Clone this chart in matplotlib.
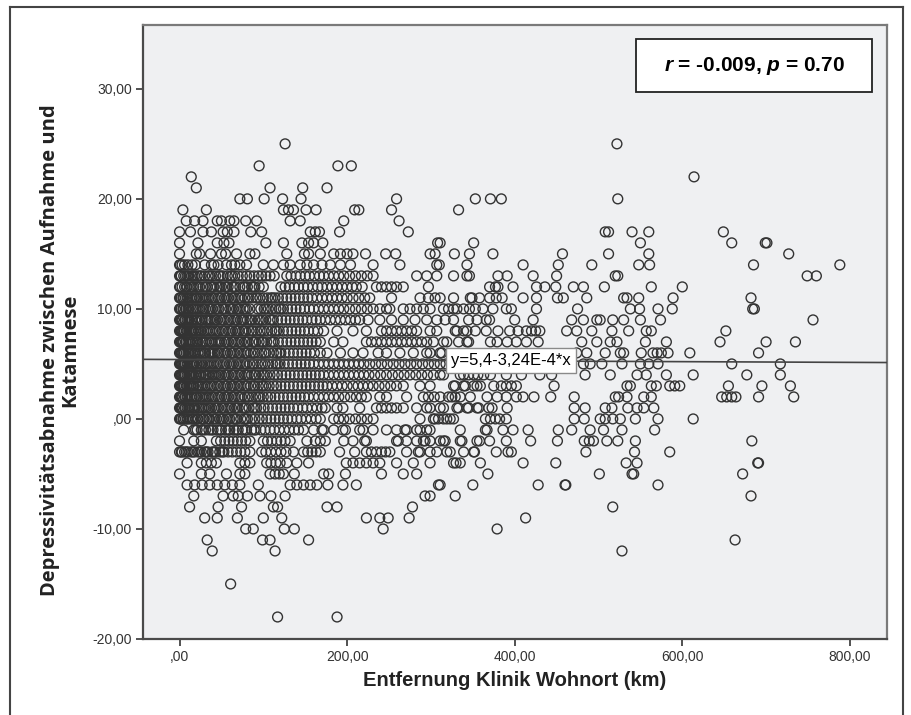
import matplotlib
matplotlib.use('Agg')
import matplotlib.pyplot as plt
from matplotlib.patches import Rectangle
from matplotlib.lines import Line2D
import numpy as np

plt.rcParams['font.family'] = ['Liberation Sans', 'DejaVu Sans']
plt.rcParams['mathtext.fontset'] = 'custom'
plt.rcParams['mathtext.bfit'] = 'Liberation Sans:italic:bold'
plt.rcParams['mathtext.bf'] = 'Liberation Sans:bold'
plt.rcParams['mathtext.rm'] = 'Liberation Sans:bold'

# Distance (km) of each patient, grouped by the (integer) decrease in depression score
km_s25 = [126, 522]
km_s23 = [95, 189, 205]
km_s22 = [14, 614]
km_s21 = [20, 108, 147, 176]
km_s20 = [72, 81, 101, 123, 145, 259, 353, 371, 384, 523]
km_s19 = [4, 32, 124, 130, 136, 151, 163, 209, 214, 253, 333]
km_s18 = [8, 18, 28, 45, 50, 60, 65, 79, 92, 132, 144, 196, 262]
km_s17 = [0, 13, 28, 38, 52, 57, 65, 85, 98, 156, 162, 167, 191, 273, 508, 512, 540, 560, 649]
km_s16 = [0, 22, 45, 53, 59, 103, 124, 146, 154, 160, 171, 308, 311, 351, 550, 659, 699, 701]
km_s15 = [0, 20, 24, 37, 50, 55, 68, 84, 90, 128, 149, 154, 168, 184, 192, 200, 207, 222, 246,
          258, 299, 305, 328, 346, 374, 457, 512, 560, 727]
km_s14 = [0, 3, 6, 10, 30, 38, 46, 56, 62, 72, 80, 100, 112, 124, 132, 144, 152, 160, 170, 180,
          192, 204, 231, 263, 307, 310, 343, 410, 452, 492, 548, 561, 685, 788, 1, 15, 19, 41, 66]
km_s13 = [0, 2, 5, 7, 11, 14, 18, 21, 26, 30, 34, 39, 43, 47, 52, 57, 61, 66, 70, 75, 80, 84, 89,
          94, 98, 103, 108, 113, 128, 133, 139, 144, 150, 155, 161, 167, 172, 178, 184, 190, 196,
          203, 210, 217, 224, 231, 283, 295, 307, 327, 343, 346, 380, 391, 422, 450, 520, 523,
          749, 760, 1, 9, 16, 24, 36, 49, 63]
km_s12 = [0, 3, 6, 9, 13, 17, 20, 24, 28, 33, 37, 41, 45, 50, 54, 58, 63, 67, 72, 76, 81, 86, 90,
          95, 100, 121, 126, 131, 137, 142, 148, 153, 159, 165, 170, 176, 182, 188, 194, 200, 206,
          211, 218, 235, 241, 247, 253, 259, 267, 297, 370, 377, 380, 398, 426, 436, 449, 470,
          482, 507, 563, 600, 1, 8, 15, 22, 31, 39, 48, 56, 65, 78, 88]
km_s11 = [0, 2, 4, 7, 10, 12, 15, 18, 21, 24, 28, 31, 35, 38, 42, 46, 50, 54, 58, 62, 66, 70, 74,
          78, 83, 87, 91, 96, 100, 105, 109, 114, 118, 123, 128, 133, 138, 143, 148, 153, 158,
          164, 170, 176, 182, 188, 194, 200, 207, 214, 221, 227, 253, 287, 297, 305, 311, 327,
          347, 349, 358, 370, 378, 385, 410, 426, 451, 458, 486, 530, 534, 548, 589, 682,
          1, 5, 9, 14, 20, 26, 33, 40, 48, 56, 64, 72, 81, 93, 111]
km_s10 = [0, 2, 5, 8, 11, 14, 17, 20, 24, 27, 31, 35, 39, 43, 47, 51, 55, 60, 64, 68, 72, 76, 80,
          84, 93, 97, 101, 106, 110, 115, 119, 124, 129, 134, 139, 144, 149, 155, 160, 166, 172,
          178, 184, 190, 196, 203, 210, 217, 224, 231, 239, 247, 251, 267, 275, 283, 291, 299,
          315, 321, 327, 331, 339, 346, 353, 362, 374, 390, 396, 426, 475, 538, 549, 571, 588,
          684, 686, 1, 4, 7, 10, 16, 22, 29, 37, 45, 53, 62, 70, 78, 103, 121]
km_s9 = [0, 2, 4, 7, 9, 12, 15, 18, 21, 24, 27, 31, 34, 38, 41, 45, 49, 53, 57, 61, 65, 69, 73,
         77, 81, 86, 90, 94, 99, 103, 108, 112, 117, 122, 127, 132, 137, 142, 147, 152, 158, 163,
         168, 174, 180, 186, 192, 198, 204, 210, 215, 225, 239, 253, 267, 281, 295, 307, 317, 327,
         345, 355, 366, 370, 400, 422, 468, 482, 498, 502, 517, 530, 550, 574, 756,
         1, 3, 6, 11, 14, 20, 26, 32, 36, 43, 51, 59, 67, 75, 84, 96, 110]
km_s8 = [0, 2, 4, 6, 9, 11, 14, 17, 20, 23, 26, 29, 33, 36, 40, 43, 47, 51, 55, 59, 63, 67, 71,
         75, 79, 83, 88, 92, 96, 101, 105, 110, 114, 119, 124, 129, 134, 139, 144, 149, 154, 160,
         165, 172, 188, 207, 223, 241, 247, 253, 259, 265, 271, 277, 283, 299, 307, 329, 331, 339,
         343, 353, 366, 380, 394, 404, 414, 420, 425, 430, 462, 474, 492, 516, 536, 557, 563, 652,
         1, 3, 5, 8, 13, 16, 19, 25, 31, 38, 45, 53, 61, 69, 77, 86, 98, 116]
km_s7 = [0, 1, 3, 5, 8, 10, 13, 16, 19, 22, 25, 28, 32, 35, 39, 42, 46, 50, 54, 58, 62, 66, 70,
         74, 78, 82, 87, 91, 95, 100, 104, 109, 113, 118, 123, 128, 133, 138, 143, 148, 153, 158,
         163, 168, 184, 195, 223, 229, 235, 241, 247, 253, 259, 265, 271, 277, 283, 289, 295, 303,
         315, 319, 333, 343, 345, 371, 379, 391, 402, 414, 428, 480, 498, 514, 522, 556, 581, 645,
         700, 735, 2, 4, 7, 12, 15, 21, 27, 30, 37, 44, 48, 56, 64, 72, 80, 89, 98, 111]
km_s6 = [0, 2, 4, 6, 8, 11, 13, 16, 19, 22, 25, 28, 31, 35, 38, 42, 45, 49, 53, 57, 61, 65, 69,
         73, 77, 81, 85, 90, 94, 98, 103, 107, 112, 116, 121, 126, 131, 136, 141, 146, 151, 156,
         161, 168, 176, 192, 207, 219, 237, 247, 263, 279, 295, 299, 311, 313, 474, 486, 508, 526,
         530, 551, 565, 570, 575, 583, 609, 691,
         1, 3, 5, 10, 15, 18, 24, 30, 36, 40, 47, 55, 63, 71, 79, 88, 101, 119]
km_s5 = [0, 1, 3, 5, 7, 10, 12, 15, 18, 21, 24, 27, 30, 34, 37, 41, 44, 48, 52, 56, 60, 64, 68,
         72, 76, 80, 84, 89, 93, 97, 102, 106, 111, 115, 120, 125, 130, 135, 140, 145, 150, 155,
         160, 166, 172, 178, 184, 190, 196, 202, 208, 214, 220, 227, 234, 241, 248, 255, 262, 269,
         276, 283, 290, 297, 304, 311, 318, 482, 490, 504, 528, 550, 560, 571, 659, 717,
         2, 4, 6, 9, 14, 17, 20, 26, 32, 39, 46, 54, 62, 70, 78, 87, 99, 117]
km_s4 = [0, 1, 3, 5, 7, 9, 12, 14, 17, 20, 23, 26, 29, 32, 36, 39, 43, 46, 50, 54, 58, 62, 66,
         70, 74, 78, 82, 86, 91, 95, 99, 104, 108, 113, 117, 122, 127, 132, 137, 142, 147, 152,
         157, 162, 167, 172, 178, 184, 190, 196, 202, 208, 214, 220, 226, 233, 240, 247, 254, 261,
         268, 275, 282, 289, 296, 303, 311, 315, 335, 339, 345, 351, 356, 363, 371, 390, 408, 430,
         444, 484, 514, 546, 557, 581, 613, 677, 717,
         2, 4, 6, 11, 16, 19, 25, 31, 34, 41, 48, 56, 64, 72, 80, 89, 101]
km_s3 = [0, 2, 4, 6, 9, 11, 14, 17, 20, 23, 27, 30, 34, 37, 41, 45, 49, 53, 57, 61, 65, 69, 73,
         77, 81, 85, 90, 94, 98, 103, 107, 112, 116, 121, 126, 131, 136, 141, 146, 151, 156, 161,
         166, 171, 176, 182, 188, 194, 200, 207, 213, 219, 225, 231, 238, 245, 252, 259, 267, 287,
         299, 327, 329, 339, 341, 351, 355, 359, 375, 384, 390, 396, 402, 447, 534, 538, 563, 569,
         585, 591, 597, 655, 695, 729,
         1, 3, 5, 8, 13, 16, 22, 25, 32, 39, 47, 55, 63, 71, 79, 88, 100]
km_s2 = [0, 2, 4, 7, 9, 12, 15, 18, 21, 24, 28, 31, 35, 38, 42, 46, 50, 54, 58, 62, 66, 70, 74,
         78, 83, 87, 91, 96, 100, 105, 109, 114, 119, 124, 129, 134, 139, 144, 149, 154, 160, 166,
         172, 178, 184, 190, 197, 204, 211, 217, 223, 239, 247, 271, 291, 297, 304, 311, 321, 325,
         329, 335, 347, 367, 379, 390, 402, 410, 423, 443, 471, 520, 524, 534, 554, 563, 647, 653,
         659, 664, 691, 733, 1, 3, 6, 10, 14, 20, 26, 33, 40, 48, 56, 64, 72, 81, 94]
km_s1 = [0, 2, 4, 6, 9, 12, 15, 18, 21, 24, 27, 31, 34, 38, 42, 46, 50, 54, 58, 62, 66, 70, 75,
         79, 83, 88, 92, 97, 101, 106, 111, 116, 121, 126, 131, 136, 141, 147, 152, 158, 164, 170,
         174, 188, 195, 215, 235, 241, 247, 253, 259, 267, 283, 295, 299, 311, 315, 331, 333, 343,
         345, 355, 357, 369, 373, 391, 471, 484, 508, 516, 535, 546, 554, 566,
         1, 3, 7, 11, 17, 23, 29, 36, 44, 52, 60, 68, 77, 90]
km_s0 = [0, 2, 4, 7, 10, 13, 16, 19, 22, 26, 29, 33, 36, 40, 44, 48, 52, 56, 60, 64, 68, 73, 77,
         81, 86, 90, 95, 99, 104, 109, 114, 119, 124, 129, 134, 140, 145, 151, 157, 163, 168, 184,
         190, 196, 203, 210, 217, 224, 231, 287, 303, 305, 309, 315, 319, 323, 327, 365, 371, 377,
         382, 390, 471, 483, 502, 508, 517, 526, 544, 571, 613,
         1, 5, 9, 15, 21, 28, 35, 42, 50, 58, 66, 79]
km_sm1 = [5, 17, 21, 26, 31, 35, 40, 45, 50, 55, 60, 65, 70, 75, 80, 86, 91, 97, 102, 108, 113,
          119, 125, 131, 137, 142, 148, 160, 170, 172, 184, 195, 198, 215, 219, 231, 247, 259,
          269, 271, 283, 287, 295, 299, 335, 365, 367, 386, 398, 416, 452, 468, 490, 506, 528, 567,
          19, 28, 38, 48, 58, 68, 78, 89]
km_sm2 = [0, 17, 26, 44, 49, 54, 59, 64, 69, 74, 79, 84, 100, 105, 110, 116, 121, 126, 132, 152,
          162, 168, 174, 196, 207, 221, 223, 259, 261, 271, 283, 291, 293, 299, 311, 315, 317,
          335, 337, 355, 358, 370, 390, 419, 451, 483, 489, 494, 510, 523, 544, 683]
km_sm3 = [0, 3, 6, 10, 14, 18, 22, 26, 30, 34, 39, 43, 48, 53, 58, 63, 68, 73, 78, 84, 98, 103,
          109, 115, 121, 127, 136, 148, 153, 158, 163, 168, 191, 209, 223, 229, 235, 241, 246,
          251, 271, 285, 287, 299, 307, 319, 323, 339, 351, 352, 378, 392, 396, 485, 543, 585,
          2, 8, 16, 24, 32, 41, 51]
km_sm4 = [9, 26, 32, 38, 44, 72, 78, 84, 104, 109, 115, 120, 128, 140, 154, 199, 207, 215, 223,
          231, 239, 259, 279, 299, 327, 330, 335, 359, 410, 449, 533, 546, 690, 691]
km_sm5 = [0, 26, 36, 56, 72, 78, 108, 114, 119, 124, 137, 172, 178, 198, 241, 267, 283, 368, 501,
          540, 542, 672]
km_sm6 = [9, 18, 27, 36, 45, 54, 63, 72, 94, 132, 140, 148, 156, 164, 177, 195, 211, 309, 311,
          350, 428, 460, 461, 571]
km_sm7 = [17, 52, 64, 70, 81, 96, 109, 126, 293, 299, 329, 682]
km_sm8 = [12, 46, 74, 112, 117, 176, 188, 278, 517]
km_sm9 = [30, 45, 69, 100, 122, 223, 239, 249, 274, 413]
km_sm10 = [79, 88, 125, 137, 243, 379]
km_sm11 = [33, 99, 108, 154, 663]
km_sm12 = [39, 114, 528]
km_sm15 = [61]
km_sm18 = [117, 188]

score_rows = [
    (25, km_s25), (23, km_s23), (22, km_s22), (21, km_s21), (20, km_s20), (19, km_s19),
    (18, km_s18), (17, km_s17), (16, km_s16), (15, km_s15), (14, km_s14), (13, km_s13),
    (12, km_s12), (11, km_s11), (10, km_s10), (9, km_s9), (8, km_s8), (7, km_s7),
    (6, km_s6), (5, km_s5), (4, km_s4), (3, km_s3), (2, km_s2), (1, km_s1), (0, km_s0),
    (-1, km_sm1), (-2, km_sm2), (-3, km_sm3), (-4, km_sm4), (-5, km_sm5), (-6, km_sm6),
    (-7, km_sm7), (-8, km_sm8), (-9, km_sm9), (-10, km_sm10), (-11, km_sm11),
    (-12, km_sm12), (-15, km_sm15), (-18, km_sm18),
]

# Linear fit reported in the chart
fit_intercept = 5.4
fit_slope = -3.24e-4
fit_label = 'y=5,4-3,24E-4*x'
stats_label = r'$\mathbfit{r}$ = -0.009, $\mathbfit{p}$ = 0.70'

x_ticks = [0, 200, 400, 600, 800]
x_ticklabels = [',00', '200,00', '400,00', '600,00', '800,00']
y_ticks = [-20, -10, 0, 10, 20, 30]
y_ticklabels = ['-20,00', '-10,00', ',00', '10,00', '20,00', '30,00']

dist = np.concatenate([np.array(v, dtype=float) for s, v in score_rows])
score = np.concatenate([np.full(len(v), s, dtype=float) for s, v in score_rows])

fig = plt.figure(figsize=(9.12, 7.15), dpi=100)
ax = fig.add_axes([0.1568, 0.1063, 0.8158, 0.8587])
ax.set_facecolor('#eff0f2')

ax.scatter(dist, score, s=50, facecolors='none', edgecolors='#333333', linewidths=1.0, zorder=3)

xlim = (-43.6, 844.3)
ax.set_xlim(xlim)
ax.set_ylim(-20, 35.8)
xs = np.array(xlim)
ax.plot(xs, fit_intercept + fit_slope * xs, color='#444444', lw=1.2, zorder=4)

ax.text(324, 5.3, fit_label, fontsize=12, ha='left', va='center', zorder=6,
        bbox=dict(boxstyle='square,pad=0.3', fc='white', ec='#8a8a8a', lw=1))

# stats box
ax.add_patch(Rectangle((0.663, 0.891), 0.317, 0.086, transform=ax.transAxes,
                       fc='white', ec='#222222', lw=1.3, zorder=7))
ax.text(0.8215, 0.934, stats_label, transform=ax.transAxes, fontsize=15,
        fontweight='bold', ha='center', va='center', zorder=8)

ax.set_xticks(x_ticks)
ax.set_xticklabels(x_ticklabels)
ax.set_yticks(y_ticks)
ax.set_yticklabels(y_ticklabels)
ax.tick_params(direction='out', length=5, width=1.2, color='#333333',
               labelsize=10, labelcolor='#333333', pad=3)

for side in ['left', 'bottom']:
    ax.spines[side].set_color('#4a4a4a')
    ax.spines[side].set_linewidth(1.6)
for side in ['top', 'right']:
    ax.spines[side].set_color('#7a7a7a')
    ax.spines[side].set_linewidth(1.6)

ax.set_xlabel('Entfernung Klinik Wohnort (km)', fontsize=14.5, fontweight='bold',
              color='#222222', labelpad=5)
ax.set_ylabel('Depressivitätsabnahme zwischen Aufnahme und\nKatamnese', fontsize=14.5,
              fontweight='bold', family=['Open Sans', 'DejaVu Sans'], color='#222222',
              labelpad=9, linespacing=1.0)
ax.yaxis.label.set_y(0.47)

# outer frame around the whole figure
for xy in [([0.0115, 0.0115], [0.0, 0.990]), ([0.0115, 0.990], [0.990, 0.990]),
           ([0.990, 0.990], [0.990, 0.0])]:
    fig.add_artist(Line2D(xy[0], xy[1], transform=fig.transFigure, color='#444444', lw=1.5))

fig.savefig('out.png', dpi=100, facecolor='white')
